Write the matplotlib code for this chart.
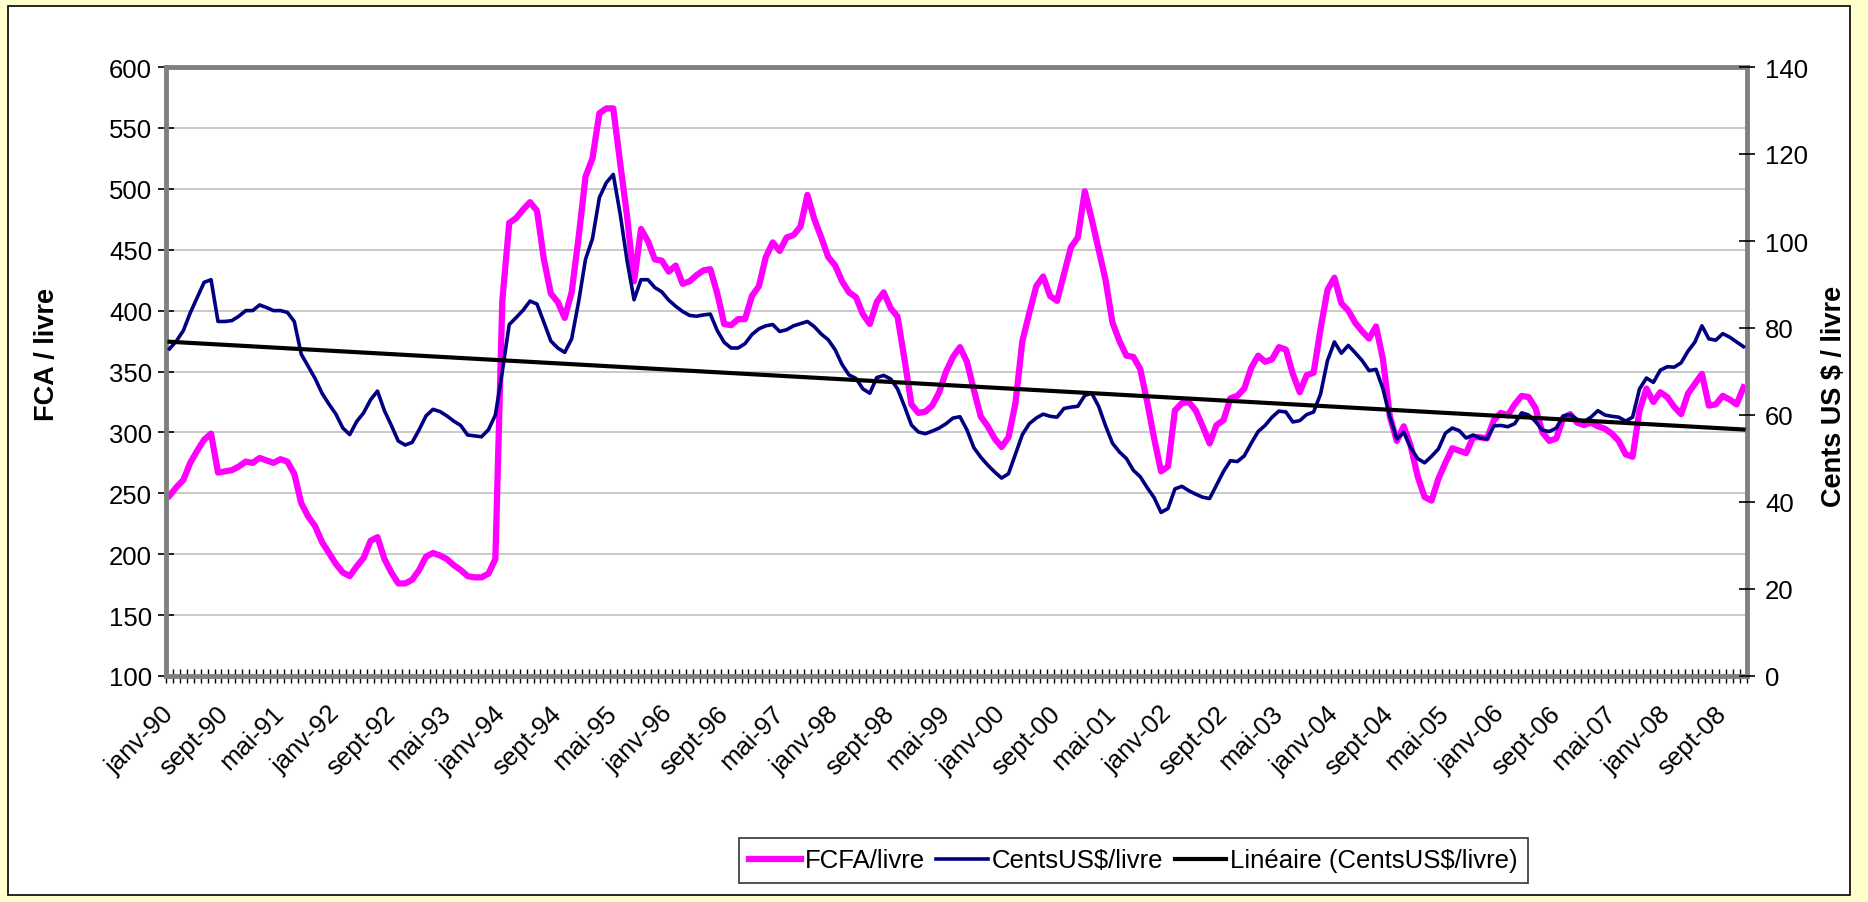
import numpy as np
import matplotlib
matplotlib.use('Agg')
import matplotlib.pyplot as plt
from matplotlib import font_manager as fm
from matplotlib.patches import Rectangle
from matplotlib.lines import Line2D

# ───────── DONNÉES (mensuelles, janv-90 → déc-08) ─────────
fcfa = [
    248, 255, 261, 275, 285, 294, 299, 267, 268, 269, 272, 276,   # 1990
    275, 279, 277, 275, 278, 276, 266, 242, 231, 223, 210, 201,   # 1991
    192, 185, 182, 190, 197, 211, 214, 196, 185, 176, 176, 179,   # 1992
    187, 198, 201, 199, 196, 191, 187, 182, 181, 181, 184, 196,   # 1993
    408, 472, 476, 483, 489, 482, 442, 414, 407, 394, 415, 460,   # 1994
    510, 525, 562, 566, 566, 521, 477, 424, 467, 457, 442, 441,   # 1995
    432, 437, 422, 424, 429, 433, 434, 414, 389, 388, 393, 393,   # 1996
    412, 420, 444, 456, 449, 460, 462, 469, 495, 475, 460, 444,   # 1997
    437, 424, 415, 411, 397, 389, 407, 415, 402, 395, 360, 323,   # 1998
    316, 317, 322, 333, 350, 362, 370, 358, 335, 313, 305, 295,   # 1999
    288, 296, 324, 375, 398, 420, 428, 412, 408, 430, 452, 460,   # 2000
    498, 475, 450, 425, 390, 375, 363, 362, 352, 325, 295, 268,   # 2001
    272, 318, 324, 325, 318, 305, 291, 306, 310, 328, 330, 336,   # 2002
    353, 363, 358, 360, 370, 368, 348, 333, 347, 349, 385, 417,   # 2003
    427, 406, 400, 390, 383, 377, 387, 360, 313, 293, 305, 289,   # 2004
    264, 247, 244, 262, 275, 287, 285, 283, 296, 296, 295, 310,   # 2005
    316, 314, 323, 330, 329, 320, 300, 293, 295, 312, 315, 308,   # 2006
    306, 308, 305, 303, 299, 293, 282, 280, 318, 336, 325, 333,   # 2007
    329, 321, 315, 332, 340, 348, 322, 323, 330, 327, 323, 337,   # 2008
]

cents = [
    75.2, 77.0, 79.4, 83.5, 87.0, 90.5, 91.1, 81.5, 81.5, 81.7, 82.7, 84.0,   # 1990
    84.0, 85.3, 84.7, 84.0, 84.0, 83.6, 81.5, 74.0, 71.2, 68.4, 65.0, 62.5,   # 1991
    60.2, 57.0, 55.5, 58.5, 60.5, 63.5, 65.5, 61.0, 57.6, 54.0, 53.1, 53.7,   # 1992
    56.6, 59.8, 61.3, 60.8, 59.8, 58.6, 57.6, 55.4, 55.2, 55.0, 56.6, 60.0,   # 1993
    70.0, 80.8, 82.4, 84.1, 86.2, 85.5, 81.3, 77.0, 75.4, 74.4, 77.5, 86.0,   # 1994
    95.8, 100.5, 110.0, 113.4, 115.3, 106.2, 95.4, 86.5, 91.1, 91.1, 89.3, 88.3,  # 1995
    86.4, 85.0, 83.8, 82.9, 82.7, 83.0, 83.2, 79.4, 76.7, 75.4, 75.4, 76.4,   # 1996
    78.5, 79.8, 80.5, 80.8, 79.2, 79.6, 80.5, 81.0, 81.5, 80.3, 78.6, 77.3,   # 1997
    75.0, 71.6, 69.2, 68.4, 66.0, 65.0, 68.6, 69.1, 68.3, 66.0, 62.0, 57.7,   # 1998
    56.1, 55.7, 56.3, 57.0, 58.0, 59.3, 59.6, 56.6, 52.5, 50.3, 48.5, 46.9,   # 1999
    45.5, 46.5, 51.0, 55.5, 58.0, 59.3, 60.2, 59.7, 59.5, 61.5, 61.8, 62.0,   # 2000
    64.5, 65.0, 62.0, 57.5, 53.5, 51.5, 50.0, 47.3, 45.8, 43.3, 41.0, 37.6,   # 2001
    38.5, 43.0, 43.6, 42.6, 41.8, 41.1, 40.8, 43.9, 47.0, 49.5, 49.3, 50.6,   # 2002
    53.5, 56.2, 57.6, 59.5, 60.9, 60.7, 58.4, 58.7, 60.1, 60.7, 64.8, 72.5,   # 2003
    76.8, 74.2, 76.0, 74.3, 72.5, 70.2, 70.5, 66.0, 59.5, 54.5, 56.0, 52.5,   # 2004
    50.0, 49.0, 50.5, 52.2, 55.8, 57.0, 56.4, 54.7, 55.4, 54.7, 54.5, 57.5,   # 2005
    57.6, 57.3, 58.0, 60.5, 60.0, 58.5, 56.5, 56.2, 57.0, 59.8, 60.1, 59.0,   # 2006
    58.5, 59.5, 61.0, 60.0, 59.7, 59.5, 58.6, 59.5, 66.0, 68.5, 67.5, 70.3,   # 2007
    71.1, 71.0, 72.0, 74.7, 76.8, 80.5, 77.5, 77.2, 78.7, 77.9, 76.8, 75.7,   # 2008
]

mois = ['janv', 'févr', 'mars', 'avr', 'mai', 'juin',
        'juil', 'août', 'sept', 'oct', 'nov', 'déc']
annees = range(1990, 2009)
etiquettes = [f"{m}-{a % 100:02d}" for a in annees for m in mois]

legendes = ['FCFA/livre', 'CentsUS$/livre', 'Linéaire (CentsUS$/livre)']

# ─────── TENDANCE LINÉAIRE ───────
x = np.arange(len(fcfa))
pente, orig = np.polyfit(x, cents, 1)
tendance = orig + pente * x

# ─────── POLICE ───────
noms = {f.name for f in fm.fontManager.ttflist}
if 'Liberation Sans Narrow' in noms:
    POLICE, FS, FT = 'Liberation Sans Narrow', 21, 22
else:
    POLICE, FS, FT = 'Liberation Sans', 18.5, 19.5
plt.rcParams['font.family'] = [POLICE, 'DejaVu Sans']

MAGENTA, MARINE = '#FF00FF', '#000080'

# ────────── FIGURE ──────────
W, H = 1868, 903
fig = plt.figure(figsize=(W / 100, H / 100), dpi=100)
fig.patch.set_facecolor('#FFFFCC')
fig.add_artist(Rectangle((8 / W, 1 - 896 / H), (1850 - 8) / W, (896 - 7) / H,
                         transform=fig.transFigure, fc='white', ec='black',
                         lw=1.2, zorder=-1))

L, R, T, B = 166, 1747, 68, 677
ax = fig.add_axes([L / W, 1 - B / H, (R - L) / W, (B - T) / H])
ax2 = ax.twinx()

ax.plot(x, fcfa, color=MAGENTA, lw=4.5)
ax2.plot(x, cents, color=MARINE, lw=2.6)
ax2.plot(x, tendance, color='black', lw=3.0)

ax.set_xlim(-0.5, len(x) - 0.5)
ax.set_ylim(100, 600)
ax2.set_ylim(0, 140)
ax.set_yticks(range(100, 601, 50))
ax2.set_yticks(range(0, 141, 20))
ax.grid(axis='y', color='#C0C0C0', lw=1.2)
ax.set_axisbelow(True)

ax.set_xticks(x[::8])
ax.set_xticklabels(etiquettes[::8], rotation=45, ha='right', va='center',
                   rotation_mode='anchor')
ax.set_xticks(np.arange(-0.5, len(x), 1), minor=True)
ax.tick_params(axis='x', which='major', length=0, pad=24, labelsize=FS)
ax.tick_params(axis='x', which='minor', direction='inout', length=10, width=1)
ax.tick_params(axis='y', direction='inout', length=12, width=1.2,
               labelsize=FS, pad=4)
ax2.tick_params(axis='y', direction='inout', length=12, width=1.2,
                labelsize=FS, pad=7)

for sp in ax.spines.values():
    sp.set_color('#808080')
    sp.set_linewidth(3.5)
for sp in ax2.spines.values():
    sp.set_visible(False)

fig.text(47 / W, 1 - 355 / H, 'FCA / livre', rotation=90, ha='center',
         va='center', fontsize=FT, fontweight='bold')
fig.text(1834 / W, 1 - 396 / H, 'Cents US $ / livre', rotation=90,
         ha='center', va='center', fontsize=FT, fontweight='bold')

poignees = [Line2D([], [], color=MAGENTA, lw=4.5),
            Line2D([], [], color=MARINE, lw=2.6),
            Line2D([], [], color='black', lw=3.0)]
leg = fig.legend(poignees, legendes, loc='center',
                 bbox_to_anchor=(1133.5 / W, 1 - 861.5 / H), ncol=3,
                 frameon=True, fancybox=False, edgecolor='black',
                 fontsize=FS, handlelength=2.0, handletextpad=0.15,
                 columnspacing=0.45, borderpad=0.4)
leg.get_frame().set_linewidth(1.2)

fig.savefig('out.png', dpi=100, facecolor=fig.get_facecolor())
